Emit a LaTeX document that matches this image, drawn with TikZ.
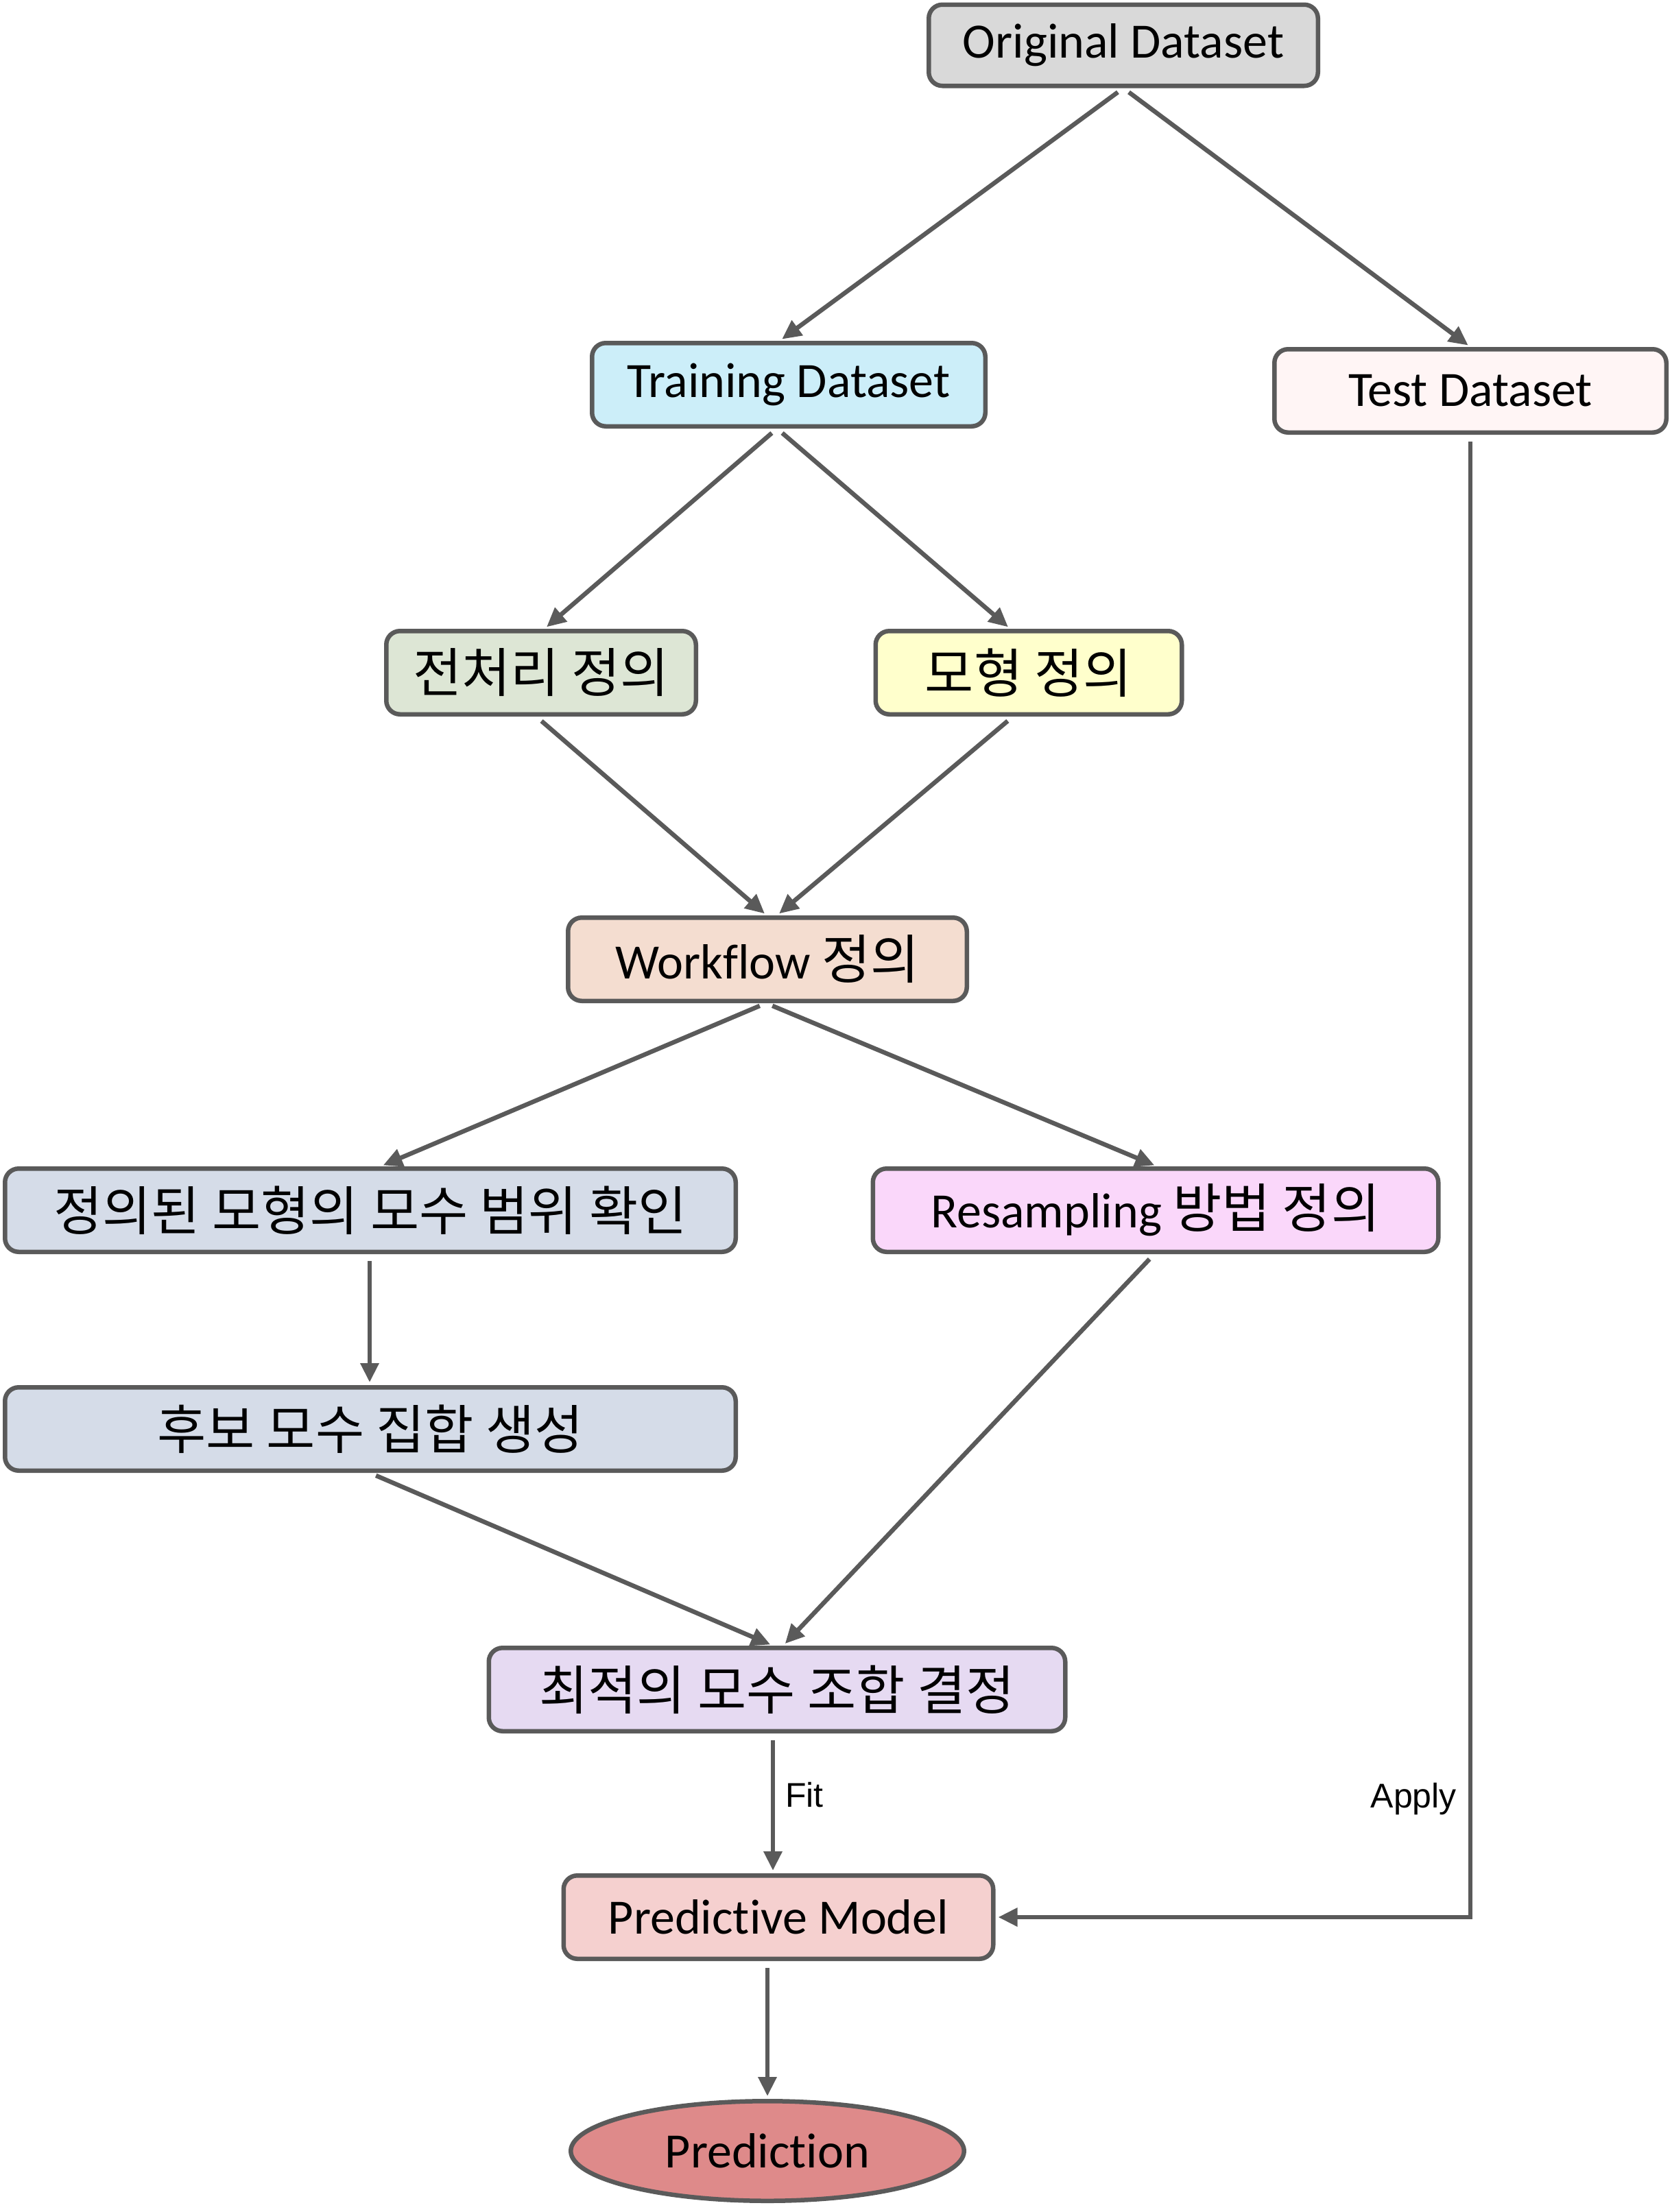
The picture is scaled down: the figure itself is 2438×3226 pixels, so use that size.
\documentclass[tikz,border=0pt]{standalone}
\usepackage{fontspec}
\setmainfont{Carlito}[Ligatures={NoCommon}]
\newfontfamily\kr[Scale=1.075]{Noto Sans CJK KR}
\newfontfamily\arialf{Liberation Sans}
\usetikzlibrary{arrows.meta,shapes.geometric}
\definecolor{edgec}{HTML}{5A5A5A}
\definecolor{cOrig}{HTML}{D9D9D9}
\definecolor{cTrain}{HTML}{CCEEF9}
\definecolor{cTest}{HTML}{FFF5F5}
\definecolor{cPre}{HTML}{DDE6D5}
\definecolor{cModel}{HTML}{FFFFCC}
\definecolor{cWf}{HTML}{F4DDD0}
\definecolor{cParam}{HTML}{D5DCE8}
\definecolor{cRes}{HTML}{FAD7FA}
\definecolor{cOpt}{HTML}{E6DAF2}
\definecolor{cPm}{HTML}{F5D0CF}
\definecolor{cPred}{HTML}{DE8A8A}
\begin{document}
\begin{tikzpicture}[x=1pt,y=-1pt,
  box/.style={draw=edgec, line width=6.5pt, rounded corners=20pt, minimum height=121.5pt, inner sep=0pt, text=black, font=\fontsize{72}{86}\selectfont},
  arr/.style={draw=edgec, line width=6.5pt, -{Triangle[length=28pt,width=26pt]}, shorten <=10pt, shorten >=4pt},
  lbl/.style={inner sep=0pt, text=black, font=\arialf\fontsize{50}{60}\selectfont}]
\useasboundingbox (0,0) rectangle (2438,3226);
\node[box, fill=cOrig, minimum width=567.5pt, minimum height=118.5pt] (orig) at (1638,66) {Original Dataset};
\node[box, fill=cTrain, minimum width=573.5pt] (train) at (1150,561) {Training Dataset};
\node[box, fill=cTest, minimum width=571.5pt] (test) at (2144,570) {Test Dataset};
\node[box, fill=cPre, minimum width=451.5pt] (pre) at (789,981) {\kr 전처리 정의};
\node[box, fill=cModel, minimum width=446.5pt] (model) at (1500,981) {\kr 모형 정의};
\node[box, fill=cWf, minimum width=581.5pt] (wf) at (1119,1399) {Workflow {\kr 정의}};
\node[box, fill=cParam, minimum width=1065.5pt] (range) at (540,1765) {\kr 정의된 모형의 모수 범위 확인};
\node[box, fill=cRes, minimum width=824.5pt] (res) at (1685,1765) {Resampling {\kr 방법 정의}};
\node[box, fill=cParam, minimum width=1065.5pt] (cand) at (540,2084) {\kr 후보 모수 집합 생성};
\node[box, fill=cOpt, minimum width=840.5pt] (opt) at (1133,2464) {\kr 최적의 모수 조합 결정};
\node[box, fill=cPm, minimum width=626.5pt] (pm) at (1135,2796) {Predictive Model};
\node[ellipse, draw=edgec, line width=6.5pt, fill=cPred, minimum width=573.5pt, minimum height=145.5pt, inner sep=0pt, text=black, font=\fontsize{72}{86}\selectfont] (pred) at (1119,3137) {Prediction};

\draw[arr] (orig.south) -- ([xshift=-13pt]train.north);
\draw[arr] (orig.south) -- (test.north);
\draw[arr] ([xshift=-17pt]train.south) -- ([xshift=5pt]pre.north);
\draw[arr] ([xshift=-17pt]train.south) -- ([xshift=-27pt]model.north);
\draw[arr] ([xshift=-7pt]pre.south) -- ([xshift=-1pt]wf.north);
\draw[arr] ([xshift=-23pt]model.south) -- ([xshift=14pt]wf.north);
\draw[arr] ([xshift=-2pt]wf.south) -- ([xshift=15pt]range.north);
\draw[arr] ([xshift=-2pt]wf.south) -- ([xshift=2pt]res.north);
\draw[arr] ([xshift=-1pt]range.south) -- ([xshift=-1pt]cand.north);
\draw[arr] ([xshift=-1pt]cand.south) -- ([xshift=-6pt]opt.north);
\draw[arr] ([xshift=-2pt]res.south) -- ([xshift=9pt]opt.north);
\draw[arr] ([xshift=-6pt]opt.south) -- node[pos=0.44, right=15pt, lbl] {Fit} ([xshift=-6pt]opt.south |- pm.north);
\draw[arr] (test.south) |- node[pos=0.46, left=17pt, lbl] {Apply} (pm.east);
\draw[arr] (pred.north |- pm.south) -- (pred.north);
\end{tikzpicture}
\end{document}
